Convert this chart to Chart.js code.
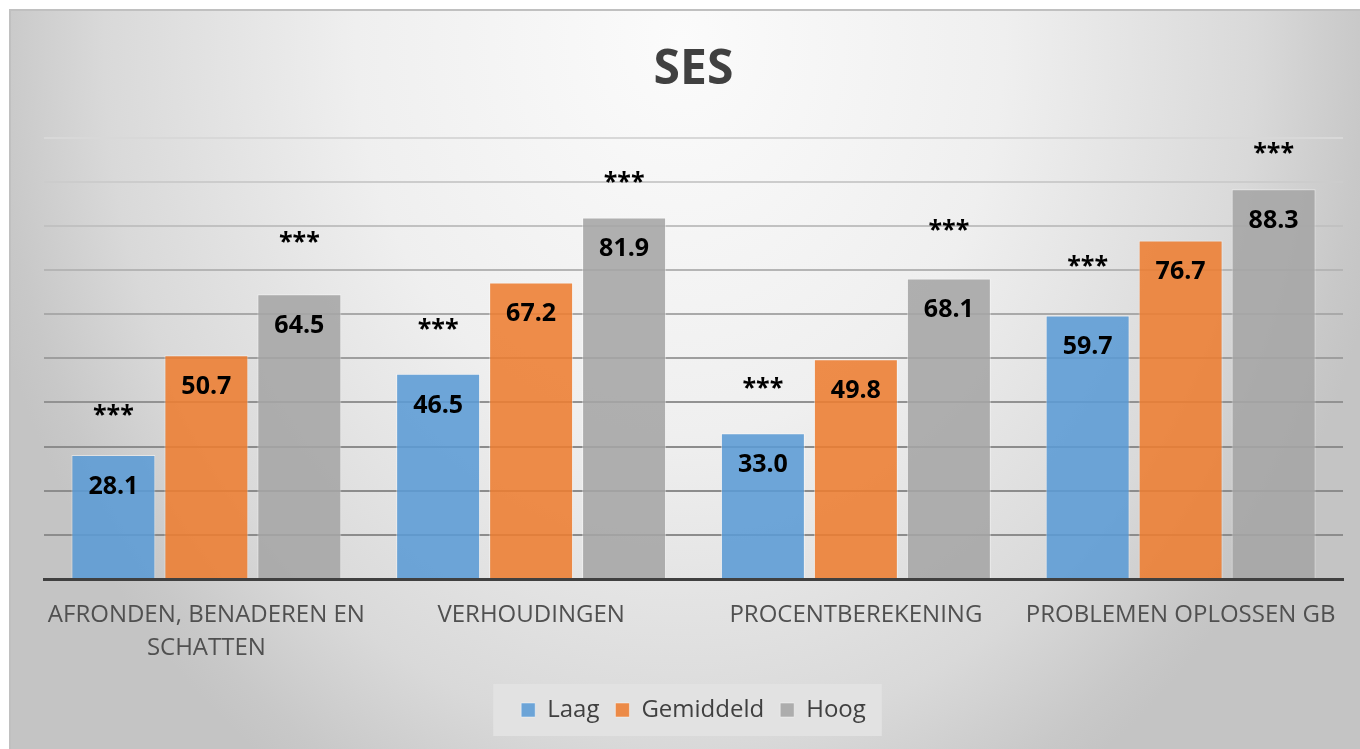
<!DOCTYPE html>
<html>
<head>
<meta charset="utf-8">
<script src="https://cdn.jsdelivr.net/npm/chart.js@4/dist/chart.umd.min.js"></script>
<style>
html,body{margin:0;padding:0;background:#ffffff;}
canvas{display:block;}
</style>
</head>
<body>
<canvas id="c" width="1360" height="749"></canvas>
<script>
// ---- data ----
const categories = [['AFRONDEN, BENADEREN EN', 'SCHATTEN'], 'VERHOUDINGEN', 'PROCENTBEREKENING', 'PROBLEMEN OPLOSSEN GB'];
const seriesNames = ['Laag', 'Gemiddeld', 'Hoog'];
const laag = [28.1, 46.5, 33.0, 59.7];
const gemiddeld = [50.7, 67.2, 49.8, 76.7];
const hoog = [64.5, 81.9, 68.1, 88.3];
// significance markers and the value level at which they sit
const sigLaag = ['***', '***', '***', '***'];
const sigGemiddeld = ['', '', '', ''];
const sigHoog = ['***', '***', '***', '***'];
const sigLevelLaag = [38.4, 57.7, 44.3, 72.0];
const sigLevelGemiddeld = [null, null, null, null];
const sigLevelHoog = [77.4, 91.1, 80.1, 97.7];
const yMin = 0, yMax = 100, yStep = 10;

const sigs = [sigLaag, sigGemiddeld, sigHoog];
const sigLevels = [sigLevelLaag, sigLevelGemiddeld, sigLevelHoog];

const bgPlugin = {
  id: 'bg',
  beforeDraw(chart) {
    const ctx = chart.ctx;
    const W = chart.width, H = chart.height;
    ctx.save();
    ctx.fillStyle = '#ffffff';
    ctx.fillRect(0, 0, W, H);
    // elliptical radial gradient
    const cx = 680, cy = 40, rx = 720, ry = 880;
    ctx.save();
    ctx.beginPath();
    ctx.rect(9, 9, W - 9, H - 9);
    ctx.clip();
    ctx.translate(cx, cy);
    ctx.scale(1, ry / rx);
    const g = ctx.createRadialGradient(0, 0, 0, 0, 0, rx);
    g.addColorStop(0, '#fbfbfb');
    g.addColorStop(0.45, '#efefef');
    g.addColorStop(0.8, '#d9d9d9');
    g.addColorStop(0.95, '#c8c8c8');
    g.addColorStop(1, '#c4c4c4');
    ctx.fillStyle = g;
    ctx.fillRect(-cx, -cy * rx / ry - 10, W + 20, (H + 20) * rx / ry + 20);
    ctx.restore();
    ctx.strokeStyle = '#c0c0c0';
    ctx.lineWidth = 2;
    ctx.strokeRect(10, 10, W - 8, H - 8);
    // legend background
    const lg = chart.legend;
    if (lg && lg.legendHitBoxes && lg.legendHitBoxes.length) {
      const hb = lg.legendHitBoxes;
      const first = hb[0], last = hb[hb.length - 1];
      const left = first.left - 28;
      const right = last.left + last.width + 16;
      const midY = first.top + first.height / 2;
      ctx.fillStyle = '#e2e2e2';
      ctx.fillRect(left, midY - 26, right - left, 52);
    }
    ctx.restore();
  }
};

function drawCentered(ctx, text, x, cy) {
  const m = ctx.measureText(text);
  const base = cy - (m.actualBoundingBoxDescent - m.actualBoundingBoxAscent) / 2;
  ctx.fillText(text, x, base);
}

const labelPlugin = {
  id: 'vals',
  afterDatasetsDraw(chart) {
    const ctx = chart.ctx;
    const yScale = chart.scales.y;
    ctx.save();
    ctx.fillStyle = '#000000';
    ctx.textAlign = 'center';
    ctx.textBaseline = 'alphabetic';
    ctx.font = 'bold 25px "Open Sans", sans-serif';
    chart.data.datasets.forEach((ds, i) => {
      const meta = chart.getDatasetMeta(i);
      meta.data.forEach((bar, j) => {
        drawCentered(ctx, ds.data[j].toFixed(1), bar.x, bar.y + 30);
        const s = sigs[i][j];
        const lvl = sigLevels[i][j];
        if (s && lvl !== null) {
          drawCentered(ctx, s, bar.x, yScale.getPixelForValue(lvl));
        }
      });
    });
    ctx.restore();
  }
};

function gridColor(ctx) {
  const v = ctx.tick ? ctx.tick.value : 0;
  const c = Math.round(140 + Math.max(0, v - 35) * (76 / 65));
  return 'rgb(' + c + ',' + c + ',' + c + ')';
}

new Chart(document.getElementById('c'), {
  type: 'bar',
  data: {
    labels: categories,
    datasets: [
      { label: seriesNames[0], data: laag, backgroundColor: 'rgba(91,155,213,0.88)', borderColor: 'rgba(255,255,255,0.45)', borderWidth: 1 },
      { label: seriesNames[1], data: gemiddeld, backgroundColor: 'rgba(237,125,49,0.88)', borderColor: 'rgba(255,255,255,0.45)', borderWidth: 1 },
      { label: seriesNames[2], data: hoog, backgroundColor: 'rgba(165,165,165,0.88)', borderColor: 'rgba(255,255,255,0.45)', borderWidth: 1 }
    ]
  },
  options: {
    responsive: false,
    animation: false,
    devicePixelRatio: 1,
    categoryPercentage: 0.859,
    barPercentage: 0.903,
    layout: { padding: { left: 44, right: 17, top: 0, bottom: 17 } },
    plugins: {
      title: {
        display: true,
        text: 'SES',
        color: '#404040',
        font: { family: '"Open Sans", sans-serif', size: 48, weight: 'bold', lineHeight: 1.2 },
        padding: { top: 42, bottom: 38 }
      },
      legend: {
        display: true,
        position: 'bottom',
        labels: {
          color: '#404040',
          font: { family: '"Open Sans", sans-serif', size: 24 },
          boxWidth: 14,
          boxHeight: 14,
          padding: 16
        }
      },
      tooltip: { enabled: false }
    },
    scales: {
      x: {
        z: 1,
        grid: { display: false, drawTicks: false },
        border: { display: true, color: '#404040', width: 3 },
        ticks: {
          color: '#505050',
          font: { family: '"Open Sans", sans-serif', size: 24, lineHeight: 1.4 },
          padding: 19,
          maxRotation: 0,
          autoSkip: false
        },
        afterFit(scale) { scale.height = 103; }
      },
      y: {
        min: yMin,
        max: yMax,
        ticks: { display: false, stepSize: yStep },
        grid: { color: gridColor, lineWidth: 2, drawTicks: false },
        border: { display: false }
      }
    }
  },
  plugins: [bgPlugin, labelPlugin]
});
</script>
</body>
</html>
